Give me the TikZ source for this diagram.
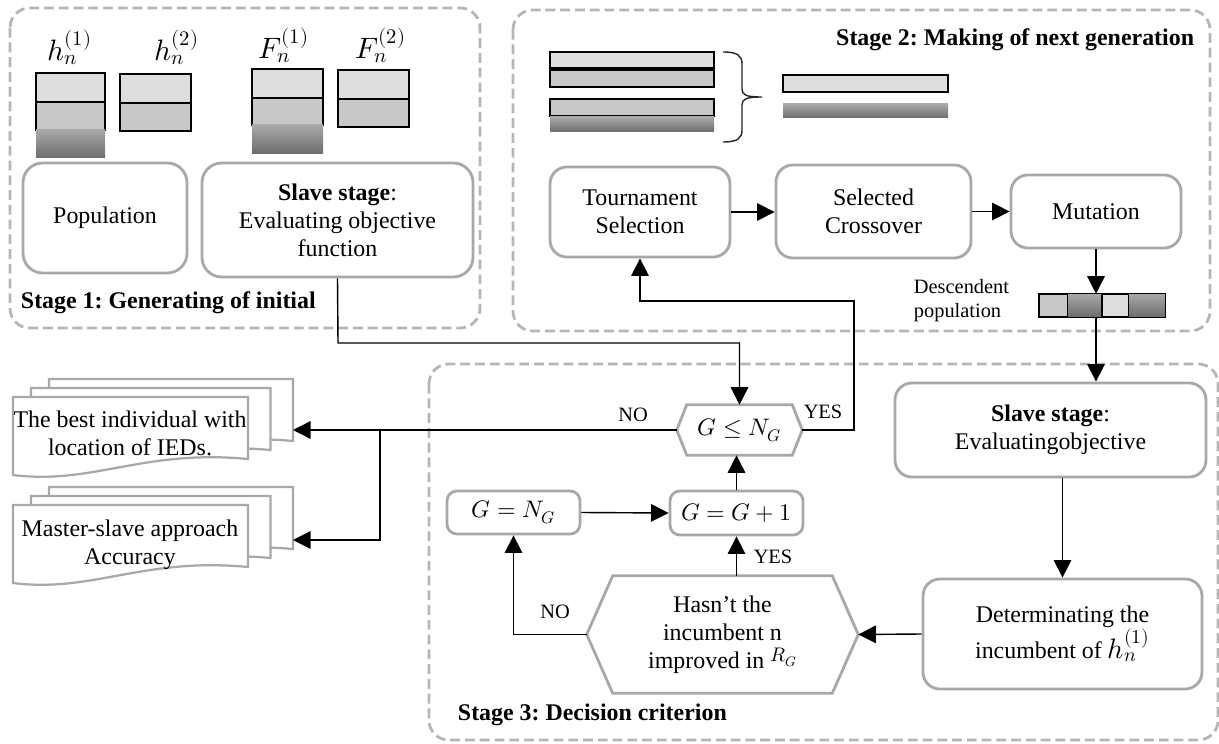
\documentclass[tikz,border=0pt]{standalone}
\usepackage{amsmath}
\usepackage{fontspec}
\usepackage{unicode-math}
\setmainfont{Liberation Serif}
\frenchspacing
\usetikzlibrary{arrows.meta}
\definecolor{edge}{RGB}{168, 168, 168}
\definecolor{frame}{RGB}{182, 182, 182}
\definecolor{genelight}{RGB}{221, 221, 221}
\definecolor{genemid}{RGB}{200, 200, 200}
\definecolor{genetop}{RGB}{168, 168, 168}
\definecolor{genebot}{RGB}{108, 108, 108}

\begin{document}
\begin{tikzpicture}[x=0.25mm, y=-0.25mm,
    txt/.style={font=\fontsize{17}{20}\selectfont, align=center},
    lbl/.style={font=\fontsize{14.5}{17}\selectfont},
    proc/.style={txt, draw=edge, line width=2pt, rounded corners=12pt, inner sep=0pt},
    cond/.style={txt, inner sep=0pt},
    hexa/.style={draw=edge, line width=2pt},
    stagebox/.style={draw=frame, line width=2pt, dash pattern=on 7pt off 3.5pt, rounded corners=14pt},
    stagetitle/.style={font=\fontsize{17}{20}\selectfont\bfseries},
    genelbl/.style={font=\fontsize{21}{21}\selectfont},
    flow/.style={line width=1pt, -{Triangle[length=12.5pt,width=12.5pt]}},
    cellA/.style={fill=genelight, draw=black, line width=0.9pt},
    cellB/.style={fill=genemid, draw=black, line width=0.9pt},
    cellC/.style={top color=genetop, bottom color=genebot, draw=none},
    docline/.style={draw=edge, line width=1.6pt, fill=white}]
  \useasboundingbox (0,0) rectangle (1219,744);

  % stages
  \draw[stagebox] (10,8) rectangle (480,328);
  \draw[stagebox] (513,10) rectangle (1210,331);
  \draw[stagebox] (429,364) rectangle (1218,740);
  \node[stagetitle, anchor=west] (t1) at (16,303) {Stage 1: Generating of initial};
  \node[stagetitle, anchor=east] (t2) at (1199,40) {Stage 2: Making of next generation};
  \node[stagetitle, anchor=west] (t3) at (453,715) {Stage 3: Decision criterion};

  % stage 1 genes
  \node[genelbl] (h1) at (70,47) {$h_n^{(1)}$};
  \node[genelbl] (h2) at (177,47) {$h_n^{(2)}$};
  \node[genelbl] (f1) at (284,45) {$F_n^{(1)}$};
  \node[genelbl] (f2) at (381,45) {$F_n^{(2)}$};
  \filldraw[cellA] (36,73) rectangle (105,102);
  \filldraw[cellB] (36,102) rectangle (105,130);
  \path[cellC] (36,130) rectangle (105,158);
  \filldraw[cellA] (120,74) rectangle (191,103);
  \filldraw[cellB] (120,103) rectangle (191,131);
  \filldraw[cellA] (252,69) rectangle (323,98);
  \filldraw[cellB] (252,98) rectangle (323,125);
  \path[cellC] (252,125) rectangle (323,154);
  \filldraw[cellA] (338,70) rectangle (409,99);
  \filldraw[cellB] (338,99) rectangle (409,127);

  \node[proc, rounded corners=14pt, minimum width=41mm, minimum height=27.5mm] (pop) at (105,218) {Population};
  \node[proc, rounded corners=14pt, minimum width=67.75mm, minimum height=28.5mm] (slaveA) at (337.5,220) {\textbf{Slave stage}:\\Evaluating objective\\function};

  % stage 2 genes
  \filldraw[cellA] (550,52) rectangle (714,68);
  \filldraw[cellB] (550,70) rectangle (714,87);
  \filldraw[cellB] (550,99) rectangle (714,116);
  \path[cellC] (550,117) rectangle (714,132);
  \filldraw[cellA] (783,75) rectangle (948,92);
  \path[cellC] (783,104) rectangle (948,118);
  \draw[line width=1pt, black!85] (723,52) .. controls (738,52) and (742,56) .. (742,64) -- (742,89)
    .. controls (742,95) and (746,97) .. (762,97) .. controls (746,97) and (742,99) .. (742,105)
    -- (742,130) .. controls (742,138) and (738,142) .. (723,142);

  \node[proc, minimum width=45mm, minimum height=22.5mm] (tour) at (640,212) {Tournament\\Selection};
  \node[proc, minimum width=48.75mm, minimum height=23.25mm] (cross) at (873.5,211.5) {Selected\\Crossover};
  \node[proc, minimum width=42.5mm, minimum height=18.25mm] (mut) at (1096,211.5) {Mutation};

  \node[lbl, anchor=west, align=left] (desctxt) at (909,301) {Descendent\\population};
  \node[minimum width=31.5mm, minimum height=5.75mm, inner sep=0pt] (desc) at (1102,305.5) {};
  \filldraw[cellB] (1039,294) rectangle (1068,317);
  \path[cellC] (1068,294) rectangle (1102,317);
  \filldraw[cellA] (1102,294) rectangle (1129,317);
  \path[cellC] (1129,294) rectangle (1165,317);
  \draw[line width=0.9pt] (desc.north west) rectangle (desc.south east);

  % stage 3
  \node[proc, minimum width=77.75mm, minimum height=23.5mm] (slaveB) at (1050.5,430) {\textbf{Slave stage}:\\Evaluatingobjective};
  \node[proc, minimum width=69.75mm, minimum height=27.5mm] (det) at (1062.5,634) {Determinating the\\incumbent of {\fontsize{20}{20}\selectfont$h_n^{(1)}$}};
  \node[proc, rounded corners=7pt, minimum width=33.25mm, minimum height=10.75mm] (gset) at (513.5,512.5) {$G = N_G$};
  \node[proc, rounded corners=7pt, minimum width=33.25mm, minimum height=11mm] (ginc) at (736.5,513) {$G = G + 1$};
  \node[cond, minimum width=31.25mm, minimum height=12.5mm] (gle) at (739.5,430) {$G \leq N_G$};
  \node[cond, minimum width=67.75mm, minimum height=29.25mm] (imp) at (722.5,634.5) {Hasn’t the\\incumbent n\\improved in {\fontsize{14}{14}\selectfont\raisebox{5pt}{$R_G$}}};
  \draw[hexa] (gle.west) -- ([xshift=2.5mm]gle.north west) -- ([xshift=-2.5mm]gle.north east) -- (gle.east)
    -- ([xshift=-2.5mm]gle.south east) -- ([xshift=2.5mm]gle.south west) -- cycle;
  \draw[hexa] (imp.west) -- ([xshift=6.5mm]imp.north west) -- ([xshift=-6.5mm]imp.north east) -- (imp.east)
    -- ([xshift=-6.5mm]imp.south east) -- ([xshift=6.5mm]imp.south west) -- cycle;

  % outputs
  \foreach \top in {397,505} {
    \foreach \k in {2,1,0} {
      \draw[docline] (13+18*\k, \top-9*\k) -- (248+22.5*\k, \top-9*\k) -- (248+22.5*\k, \top-9*\k+62)
        .. controls (143+18*\k, \top-9*\k+52) and (93+18*\k, \top-9*\k+88) .. (13+18*\k, \top-9*\k+78) -- cycle;
    }
  }
  \node[txt] (best) at (130,433) {The best individual with\\location of IEDs.};
  \node[txt] (acc) at (130,545) {Master-slave approach\\Accuracy};
  \coordinate (bestin) at (293,430);
  \coordinate (accin) at (293,540);
  \coordinate (split) at (380,430);
  \coordinate (drop) at (338,343);
  \coordinate (back) at (854,301);

  % connectors
  \draw[flow] (tour.east) -- (tour.east -| cross.west);
  \draw[flow] (cross.east) -- (cross.east -| mut.west);
  \draw[flow] (mut.south) -- (mut.south |- desc.north);
  \draw[flow] (mut.south |- desc.south) -- (mut.south |- slaveB.north);
  \draw[flow] (slaveB.south -| det.north) -- (det.north);
  \draw[flow] (det.west) -- (imp.east);
  \draw[flow] (imp.north -| ginc.south) -- (ginc.south);
  \draw[flow] (imp.west) -| (gset.south);
  \draw[flow] (gset.east) -- (ginc.west);
  \draw[flow] (ginc.north) -- (ginc.north |- gle.south);
  \draw[flow] (slaveA.south) -- (drop) -| (gle.north);
  \draw[flow] (gle.east) -| (back) -| (tour.south);
  \draw[flow] (gle.west) -- (bestin);
  \draw[flow] (split) |- (accin);

  \node[lbl] (no1) at (633,415) {NO};
  \node[lbl] (yes1) at (823,412) {YES};
  \node[lbl] (yes2) at (773,557) {YES};
  \node[lbl] (no2) at (555,612) {NO};
\end{tikzpicture}
\end{document}
